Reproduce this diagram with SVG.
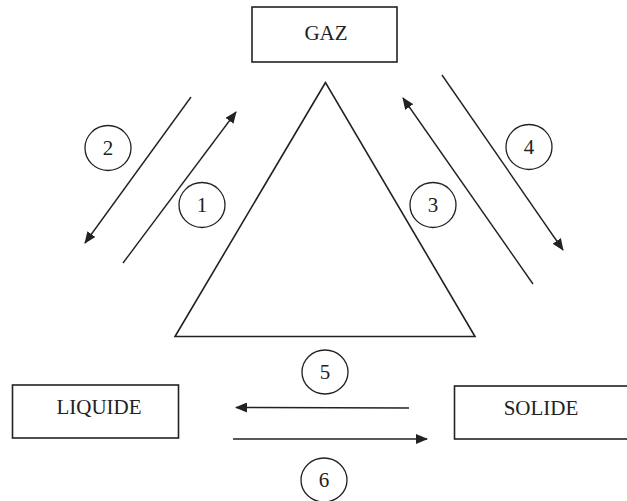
<svg xmlns="http://www.w3.org/2000/svg" width="627" height="501" viewBox="0 0 627 501">
<style>
.box{fill:#fff;stroke:#222;stroke-width:1.6}
.lbl{font-family:"Liberation Serif","Times New Roman",serif;font-size:21px;fill:#222;text-anchor:middle}
.num{font-family:"Liberation Serif","Times New Roman",serif;font-size:21px;fill:#222;text-anchor:middle}
.circ{fill:none;stroke:#222;stroke-width:1.3}
.ln{stroke:#222;stroke-width:1.4;fill:none}
.arr{stroke:#222;stroke-width:1.4;fill:none;marker-end:url(#ah)}
.tri{fill:none;stroke:#222;stroke-width:1.6;stroke-linejoin:miter}
</style>
<defs>
<marker id="ah" viewBox="0 0 12 10" refX="11" refY="5" markerWidth="12" markerHeight="10" markerUnits="userSpaceOnUse" orient="auto">
<path d="M0,0 L12,5 L0,10 Z" fill="#222"/>
</marker>
</defs>
<rect width="627" height="501" fill="#fff"/>
<g id="triangle"><polygon class="tri" points="325.5,82.5 175,336.5 475,336.5"/></g>
<g id="gaz"><rect class="box" x="252" y="7" width="145" height="55"/><text class="lbl" x="326" y="40">GAZ</text></g>
<g id="liquide"><rect class="box" x="12.5" y="385" width="166" height="53"/><text class="lbl" x="99" y="414">LIQUIDE</text></g>
<g id="solide"><rect class="box" x="454.5" y="386" width="180" height="53"/><text class="lbl" x="541" y="415">SOLIDE</text></g>
<g id="connectors">
<line class="arr" x1="123" y1="263" x2="236" y2="112"/>
<line class="arr" x1="191" y1="97" x2="85" y2="243"/>
<line class="arr" x1="533" y1="284" x2="403" y2="98"/>
<line class="arr" x1="442" y1="75" x2="563" y2="250"/>
<line class="arr" x1="409" y1="408" x2="236" y2="407.5"/>
<line class="arr" x1="233" y1="439" x2="427" y2="439"/>
</g>
<g id="labels">
<g id="n1"><ellipse class="circ" cx="202" cy="205" rx="23" ry="22.5"/><text class="num" x="202" y="212">1</text></g>
<g id="n2"><ellipse class="circ" cx="108" cy="148" rx="23" ry="22.5"/><text class="num" x="108" y="155">2</text></g>
<g id="n3"><ellipse class="circ" cx="433" cy="205" rx="23" ry="22.5"/><text class="num" x="433" y="212">3</text></g>
<g id="n4"><ellipse class="circ" cx="529" cy="147" rx="23" ry="22.5"/><text class="num" x="529" y="154">4</text></g>
<g id="n5"><ellipse class="circ" cx="325" cy="372" rx="23" ry="22"/><text class="num" x="325" y="379">5</text></g>
<g id="n6"><ellipse class="circ" cx="324" cy="480" rx="23" ry="22"/><text class="num" x="324" y="487">6</text></g>
</g>
</svg>
